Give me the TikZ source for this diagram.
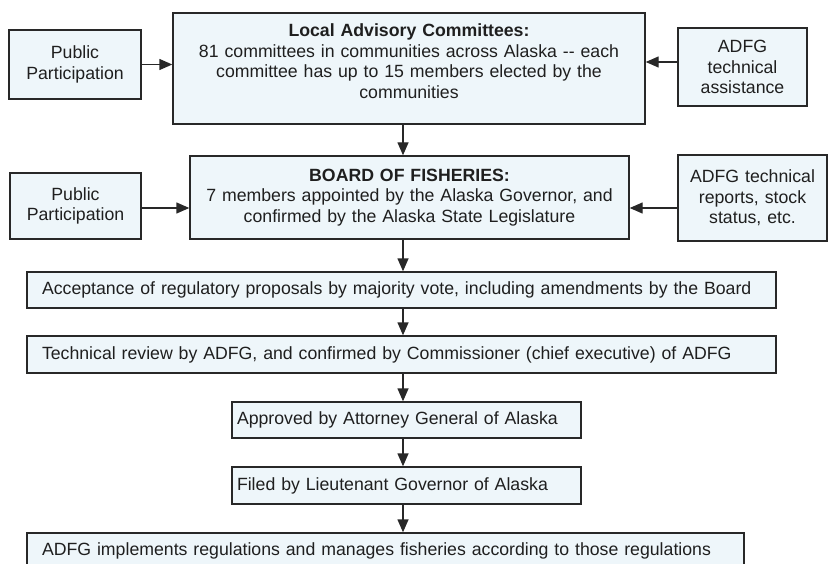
\documentclass[tikz,border=0pt]{standalone}
\usepackage{fontspec}
\setmainfont{Liberation Sans}
\usetikzlibrary{arrows.meta}
\definecolor{boxfill}{RGB}{238,246,250}
\definecolor{boxline}{RGB}{40,40,40}
\newcommand{\fsz}{\fontsize{17.7pt}{20.5pt}\selectfont}
\tikzset{
  box/.style={draw=boxline, fill=boxfill, line width=1.4pt, font=\fsz, inner ysep=0pt, text=black!88},
  ctr/.style={box, align=center, inner xsep=0pt},
  lft/.style={box, align=left},
  arr/.style={draw=boxline, line width=1.4pt, -{Triangle[length=13pt,width=11pt]}}
}
\begin{document}
\begin{tikzpicture}[x=1pt,y=-1pt]
\useasboundingbox (0,0) rectangle (829,564);
% top row
\node[ctr, text width=132pt, minimum height=69pt] (pp1) at (75,64.5) {Public\\Participation};
\node[ctr, text width=472pt, minimum height=111pt] (lac) at (409,68.5) {\textbf{Local Advisory Committees:}\\81 committees in communities across Alaska -{}- each\\committee has up to 15 members elected by the\\communities\\[-6pt]\mbox{}};
\node[ctr, text width=129pt, minimum height=78pt] (ad1) at (742.5,67) {ADFG\\technical\\assistance};
% second row
\node[ctr, text width=131pt, minimum height=66pt] (pp2) at (75.5,206) {Public\\Participation};
\node[ctr, text width=439pt, minimum height=83pt] (bof) at (409.5,197.5) {\textbf{BOARD OF FISHERIES:}\\7 members appointed by the Alaska Governor, and\\confirmed by the Alaska State Legislature};
\node[ctr, text width=149pt, minimum height=86pt] (ad2) at (752.5,198) {ADFG technical\\reports, stock\\status, etc.};
% chain
\node[lft, text width=719pt, inner xsep=15pt, minimum height=36pt] (acc) at (401.5,290) {Acceptance of regulatory proposals by majority vote, including amendments by the Board};
\node[lft, text width=719pt, inner xsep=15pt, minimum height=37pt] (tech) at (401.5,354.5) {Technical review by ADFG, and confirmed by Commissioner (chief executive) of ADFG};
\node[lft, text width=339pt, inner xsep=5pt, minimum height=36pt] (appr) at (406.5,420) {Approved by Attorney General of Alaska};
\node[lft, text width=339pt, inner xsep=5pt, minimum height=37pt] (filed) at (406.5,485.5) {Filed by Lieutenant Governor of Alaska};
\node[lft, text width=687pt, inner xsep=15pt, minimum height=36pt] (impl) at (385.5,551) {ADFG implements regulations and manages fisheries according to those regulations};
% connectors
\coordinate (ax) at (403,0);
\coordinate (y1) at (0,62);
\coordinate (y2) at (0,208);
\draw[arr] (pp1.east) -- (lac.west |- pp1.east);
\draw[arr] (ad1.west |- y1) -- (lac.east |- y1);
\draw[arr] (pp2.east |- y2) -- (bof.west |- y2);
\draw[arr] (ad2.west |- y2) -- (bof.east |- y2);
\draw[arr] (lac.south -| ax) -- (bof.north -| ax);
\draw[arr] (bof.south -| ax) -- (acc.north -| ax);
\draw[arr] (acc.south -| ax) -- (tech.north -| ax);
\draw[arr] (tech.south -| ax) -- (appr.north -| ax);
\draw[arr] (appr.south -| ax) -- (filed.north -| ax);
\draw[arr] (filed.south -| ax) -- (impl.north -| ax);
\end{tikzpicture}
\end{document}
